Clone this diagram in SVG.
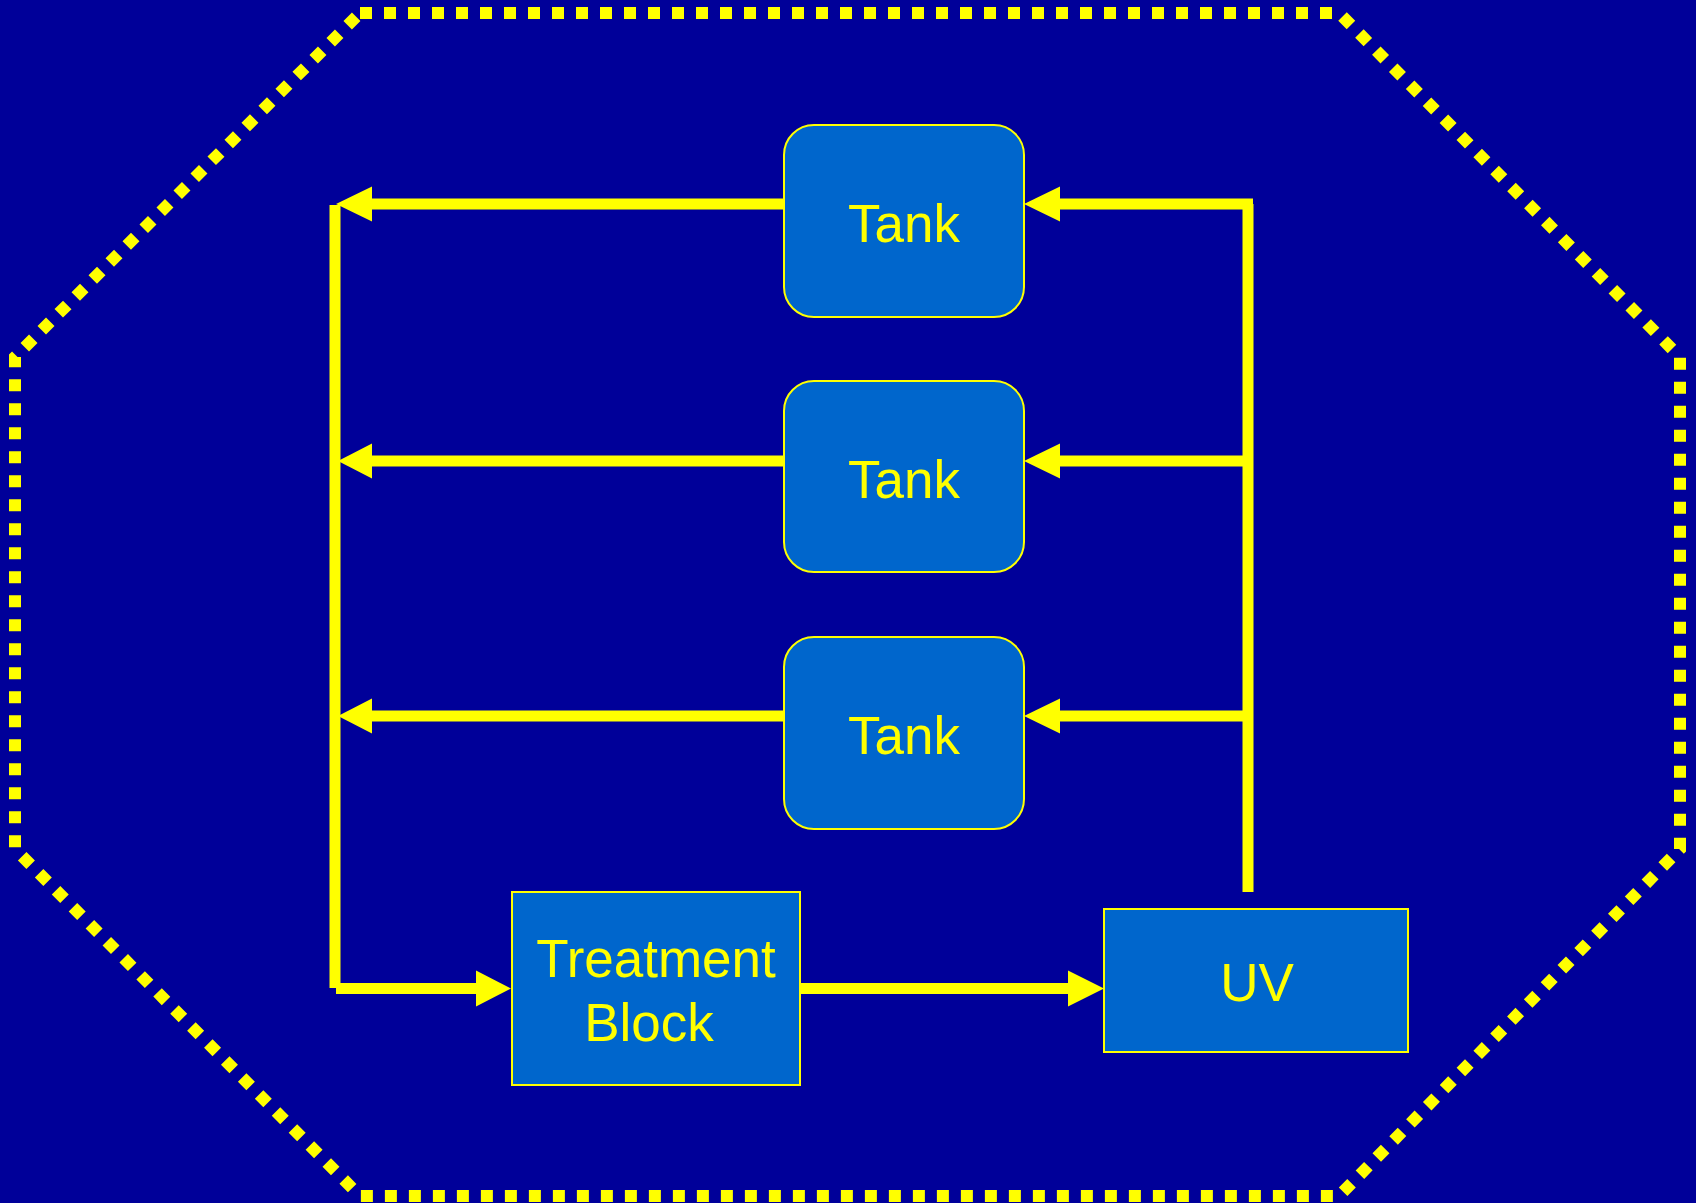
<svg xmlns="http://www.w3.org/2000/svg" width="1696" height="1203" viewBox="0 0 1696 1203">
<defs>
<style>
.bg{fill:#000099}
.oct{fill:none;stroke:#FFFF00;stroke-width:12;stroke-dasharray:12 12}
.tank{fill:#0066CC;stroke:#FFFF00;stroke-width:2}
.box{fill:#0066CC;stroke:#FFFF00;stroke-width:2}
.lbl{font-family:"Liberation Sans",Arial,sans-serif;font-size:53px;fill:#FFFF00;text-anchor:middle}
.ln{fill:none;stroke:#FFFF00;stroke-width:11;stroke-linecap:butt}
.ah{fill:#FFFF00}
</style>
</defs>
<rect class="bg" x="0" y="0" width="1696" height="1203"/>
<path class="oct" d="M360,13 L1339,13 L1680,357 L1680,849 L1339,1196 L360,1196 L15,849 L15,357 Z"/>
<g id="connectors">
<line class="ln" x1="1248" y1="204" x2="1248" y2="892"/>
<line class="ln" x1="1253" y1="204" x2="1060" y2="204"/>
<polygon class="ah" points="1024,204 1060,186.5 1060,221.5"/>
<line class="ln" x1="1248" y1="461" x2="1060" y2="461"/>
<polygon class="ah" points="1024,461 1060,443.5 1060,478.5"/>
<line class="ln" x1="1248" y1="716" x2="1060" y2="716"/>
<polygon class="ah" points="1024,716 1060,698.5 1060,733.5"/>
<line class="ln" x1="784" y1="204" x2="370" y2="204"/>
<polygon class="ah" points="336,204 372,186.5 372,221.5"/>
<line class="ln" x1="784" y1="461" x2="370" y2="461"/>
<polygon class="ah" points="338,461 372,443.5 372,478.5"/>
<line class="ln" x1="784" y1="716" x2="370" y2="716"/>
<polygon class="ah" points="338,716 372,698.5 372,733.5"/>
<line class="ln" x1="335" y1="205" x2="335" y2="988"/>
<line class="ln" x1="336" y1="988.5" x2="478" y2="988.5"/>
<polygon class="ah" points="511,988.5 476,970.5 476,1006.5"/>
<line class="ln" x1="800" y1="988.5" x2="1070" y2="988.5"/>
<polygon class="ah" points="1104,988.5 1068,970.5 1068,1006.5"/>
</g>
<g id="tank1">
<rect class="tank" x="784" y="125" width="240" height="192" rx="30" ry="30"/>
<text class="lbl" x="904" y="242">Tank</text>
</g>
<g id="tank2">
<rect class="tank" x="784" y="381" width="240" height="191" rx="30" ry="30"/>
<text class="lbl" x="904" y="498">Tank</text>
</g>
<g id="tank3">
<rect class="tank" x="784" y="637" width="240" height="192" rx="30" ry="30"/>
<text class="lbl" x="904" y="754">Tank</text>
</g>
<g id="treatment">
<rect class="box" x="512" y="892" width="288" height="193"/>
<text class="lbl" x="656" y="977">Treatment</text>
<text class="lbl" x="649" y="1041">Block</text>
</g>
<g id="uv">
<rect class="box" x="1104" y="909" width="304" height="143"/>
<text class="lbl" x="1257" y="1001">UV</text>
</g>
</svg>
